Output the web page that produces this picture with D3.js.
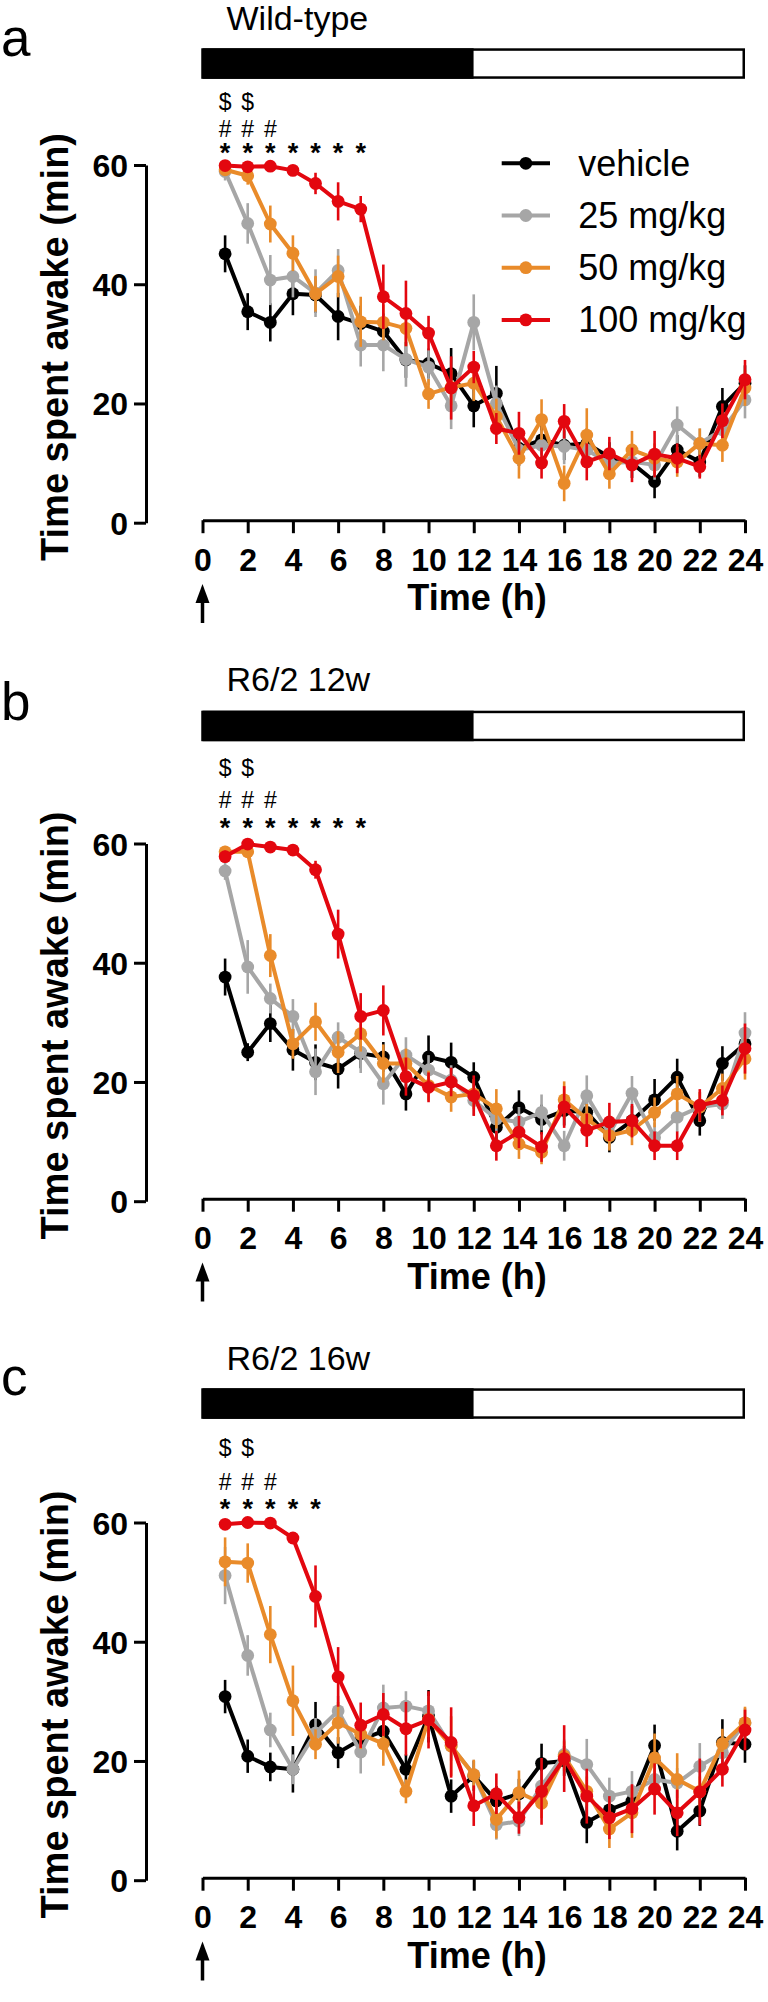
<!DOCTYPE html>
<html><head><meta charset="utf-8">
<script src="https://cdn.jsdelivr.net/npm/d3@7"></script>
<style>
body{margin:0;background:#fff}
svg{display:block}
text{font-family:"Liberation Sans",Arial,Helvetica,sans-serif;fill:#000}
</style>
</head><body>
<svg id="chart" width="768" height="2002"></svg>
<script>
// ---------- DATA ----------
const hours = [1,2,3,4,5,6,7,8,9,10,11,12,13,14,15,16,17,18,19,20,21,22,23,24];
const xTicks = [0,2,4,6,8,10,12,14,16,18,20,22,24];
const yTicks = [0,20,40,60];
const panelLetters = ["a","b","c"];
const panelTitles = ["Wild-type","R6/2 12w","R6/2 16w"];
const seriesNames = ["vehicle","25 mg/kg","50 mg/kg","100 mg/kg"];
const xLabel = "Time (h)";
const yLabel = "Time spent awake (min)";
const lightDark = [{from:0,to:12,phase:"dark"},{from:12,to:24,phase:"light"}];

// significance markers (hours)
const starHours = [[1,2,3,4,5,6,7],[1,2,3,4,5,6,7],[1,2,3,4,5]];
const hashHours = [[1,2,3],[1,2,3],[1,2,3]];
const dollarHours = [[1,2],[1,2],[1,2]];

// Panel a: Wild-type
const wtVehicle = [45.1,35.4,33.6,38.4,38.2,34.6,33.4,32.1,27.3,26.7,25.0,19.6,21.7,12.5,13.9,13.0,13.3,11.0,10.0,6.9,12.2,10.2,19.5,23.4];
const wtVehicleErr = [3.1,3.1,3.2,3.6,3.0,4.0,3.0,3.0,3.0,2.5,4.3,3.6,4.6,3.0,2.5,2.5,2.5,2.5,2.5,2.8,2.5,2.5,3.1,3.0];
const wt25 = [58.9,50.2,40.7,41.3,38.5,42.3,29.8,29.8,27.4,26.1,19.6,33.6,20.0,12.2,13.0,12.8,12.2,10.0,10.2,9.7,16.4,13.3,15.6,20.6];
const wt25Err = [1.5,3.4,4.2,3.5,4.0,3.6,3.6,4.4,4.6,3.0,3.9,4.7,3.0,2.5,2.5,3.0,2.5,2.5,2.5,2.5,3.1,2.5,2.5,3.1];
const wt50 = [59.2,58.2,50.1,45.2,38.4,41.3,33.7,33.6,32.6,21.6,22.7,23.4,17.8,10.8,17.3,6.6,14.7,8.2,12.2,10.8,10.2,13.3,13.0,22.6];
const wt50Err = [1.0,1.5,3.1,3.0,3.0,3.5,4.2,3.0,3.0,2.5,3.0,3.0,3.0,3.4,3.4,3.0,4.5,2.5,3.2,2.5,2.5,2.5,2.8,3.0];
const wt100 = [59.9,59.7,59.8,59.1,56.9,53.9,52.6,37.9,35.1,31.8,22.6,26.1,15.8,15.0,10.0,17.0,10.2,11.6,9.7,11.5,10.8,9.4,17.1,24.0];
const wt100Err = [0.3,0.3,0.3,0.5,1.8,3.2,2.2,5.4,5.5,2.9,5.3,2.7,2.6,3.6,2.6,2.9,3.1,2.8,2.9,3.9,2.5,2.0,2.9,3.3];

// Panel b: R6/2 12w
const r12Vehicle = [37.6,25.0,29.8,25.4,23.3,22.2,24.8,24.2,18.0,24.2,23.3,20.8,12.4,15.7,13.7,15.2,14.9,10.7,13.5,17.0,20.8,13.5,23.1,26.4];
const r12VehicleErr = [3.1,1.5,3.1,3.5,3.0,3.3,2.5,2.5,2.8,3.6,3.3,2.5,2.5,2.9,2.5,2.5,2.5,2.5,2.5,3.5,3.1,2.5,2.9,2.5];
const r12_25 = [55.4,39.3,34.0,31.0,21.7,27.5,25.0,19.7,24.5,22.0,20.3,16.9,13.8,13.3,14.9,9.3,17.7,11.3,18.1,10.7,14.1,15.8,16.3,28.2];
const r12_25Err = [1.5,4.5,2.5,2.9,3.9,2.5,3.5,3.5,3.0,2.5,2.5,2.5,2.5,2.5,3.0,2.5,3.4,2.5,2.9,2.5,2.5,2.5,2.5,3.5];
const r12_50 = [58.6,58.6,41.2,26.4,30.1,25.0,28.1,23.1,23.1,19.4,17.5,18.0,15.5,9.6,8.2,17.0,13.8,11.0,11.9,14.9,18.0,15.8,18.9,23.9];
const r12_50Err = [1.0,1.0,3.6,2.5,3.2,3.5,3.0,3.2,2.5,2.5,2.5,2.5,3.3,2.5,2.0,3.1,2.5,2.5,2.5,2.5,3.0,2.5,2.5,3.5];
const r12_100 = [57.8,59.9,59.4,58.9,55.6,44.8,31.0,32.0,20.9,19.1,20.0,17.7,9.3,11.6,9.1,15.8,11.9,13.3,13.5,9.3,9.3,16.1,16.9,25.6];
const r12_100Err = [1.0,0.5,0.5,0.8,1.5,4.1,3.9,4.2,3.2,2.5,2.4,3.4,2.5,2.7,2.5,3.5,2.8,3.2,2.8,2.4,2.4,2.7,2.5,4.2];

// Panel c: R6/2 16w
const r16Vehicle = [30.8,20.8,19.0,18.6,26.1,21.4,23.6,25.0,18.6,27.5,14.1,17.5,13.3,14.5,19.6,20.0,9.7,11.8,13.3,22.6,8.2,11.6,23.1,22.8];
const r16VehicleErr = [2.8,2.8,2.4,3.9,3.8,2.6,2.5,2.5,2.5,4.4,2.8,2.5,2.5,2.5,3.3,2.5,3.5,2.5,2.5,3.5,3.2,2.5,3.9,3.1];
const r16_25 = [51.1,37.7,25.2,18.6,24.7,28.4,21.5,28.9,29.2,28.4,22.5,17.7,9.3,9.9,15.8,21.1,19.4,14.1,14.9,16.9,16.3,19.1,21.4,26.4];
const r16_25Err = [4.8,3.4,2.9,2.5,2.5,2.5,3.6,3.9,2.5,2.5,2.5,2.5,2.5,2.5,2.5,2.5,4.3,3.1,3.4,2.5,2.5,3.9,2.5,2.5];
const r16_50 = [53.4,53.2,41.2,30.1,22.8,26.4,24.5,22.9,14.9,27.0,22.5,17.7,10.2,14.7,12.9,20.8,14.9,8.6,11.3,20.5,16.9,14.9,22.9,26.4];
const r16_50Err = [4.1,3.3,4.8,5.9,2.5,3.5,2.5,3.7,2.0,3.0,5.0,2.5,3.2,3.7,2.5,2.5,2.5,3.2,4.2,4.1,4.4,2.5,2.5,2.7];
const r16_100 = [59.7,60.0,59.9,57.4,47.6,34.1,26.0,27.8,25.4,26.9,23.1,12.5,14.5,10.5,14.9,20.4,14.1,10.5,12.0,15.3,11.3,14.8,18.6,25.2];
const r16_100Err = [0.3,0.3,0.3,1.0,5.2,5.0,3.8,3.6,4.5,4.8,5.9,3.4,3.4,2.7,5.6,5.6,4.6,3.6,4.1,4.3,3.9,5.6,2.9,3.4];

const panelData = [
  [[wtVehicle,wtVehicleErr],[wt25,wt25Err],[wt50,wt50Err],[wt100,wt100Err]],
  [[r12Vehicle,r12VehicleErr],[r12_25,r12_25Err],[r12_50,r12_50Err],[r12_100,r12_100Err]],
  [[r16Vehicle,r16VehicleErr],[r16_25,r16_25Err],[r16_50,r16_50Err],[r16_100,r16_100Err]]
];

// ---------- STYLE / LAYOUT ----------
const colors = ["#000000","#a6a6a6","#e98b2a","#e3070f"];
const layout = [
  {off:0,     letterY:56,   titleY:29.5,  barY:48.3,  dollarY:110, hashY:137,  starY:162},
  {off:678.5, letterY:720,  titleY:691,   barY:710.7, dollarY:776,   hashY:808,  starY:837},
  {off:1357.5,letterY:1395, titleY:1369.5,barY:1388.3,dollarY:1456,  hashY:1490, starY:1517.5}
];

const svg = d3.select("#chart");
const x = d3.scaleLinear().domain([0,24]).range([202.5,745]);

layout.forEach((L,pi)=>{
  const g = svg.append("g");
  const y = d3.scaleLinear().domain([0,60]).range([522.7+L.off,165+L.off]);

  // panel letter
  g.append("text").attr("x",1).attr("y",L.letterY).attr("font-size",53).text(panelLetters[pi]);
  // title
  g.append("text").attr("x",226.5).attr("y",L.titleY).attr("font-size",34).text(panelTitles[pi]);

  // light/dark bar
  const barH = 30.5;
  g.selectAll("rect.ld").data(lightDark).join("rect")
    .attr("x",d=>x(d.from)).attr("y",L.barY)
    .attr("width",d=>x(d.to)-x(d.from)).attr("height",barH)
    .attr("fill",d=>d.phase==="dark"?"#000":"#fff");
  g.append("rect").attr("x",x(0)).attr("y",L.barY+1.25).attr("width",x(24)-x(0)-1.25).attr("height",barH-2.5)
    .attr("fill","none").attr("stroke","#000").attr("stroke-width",2.5);

  // significance symbols
  const sym = (hrs,ch,yy,fs,fw)=>g.selectAll(null).data(hrs).join("text")
    .attr("x",d=>x(d)).attr("y",yy).attr("text-anchor","middle").attr("font-size",fs)
    .attr("font-weight",fw).text(ch);
  sym(dollarHours[pi],"$",L.dollarY,23,"normal");
  sym(hashHours[pi],"#",L.hashY,23,"normal");
  sym(starHours[pi],"*",L.starY,27,"bold");

  // y axis
  const ya = g.append("g").attr("transform",`translate(146,0)`)
    .call(d3.axisLeft(y).tickValues(yTicks).tickSize(12).tickSizeOuter(0).tickPadding(6));
  ya.select(".domain").attr("stroke-width",3).attr("stroke","#000");
  ya.selectAll(".tick line").attr("stroke-width",3).attr("stroke","#000");
  ya.selectAll(".tick text").attr("font-size",32).attr("font-weight","bold")
    .attr("font-family","Liberation Sans, Arial, sans-serif").attr("fill","#000").attr("dy","0.36em");

  // x axis
  const axisY = y(0)-2.5;
  const xa = g.append("g").attr("transform",`translate(0,${axisY})`)
    .call(d3.axisBottom(x).tickValues(xTicks).tickSize(13).tickSizeOuter(0));
  xa.select(".domain").attr("stroke-width",3).attr("stroke","#000");
  xa.selectAll(".tick line").attr("stroke-width",3).attr("stroke","#000");
  xa.selectAll(".tick text").attr("font-size",32).attr("font-weight","bold")
    .attr("font-family","Liberation Sans, Arial, sans-serif").attr("fill","#000")
    .attr("dy",null).attr("y",571+L.off-axisY);

  // axis titles
  g.append("text").attr("x",477).attr("y",610+L.off).attr("text-anchor","middle")
    .attr("font-size",36).attr("font-weight","bold").text(xLabel);
  g.append("text").attr("transform",`translate(68,${347+L.off}) rotate(-90)`)
    .attr("text-anchor","middle").attr("font-size",38).attr("font-weight","bold").text(yLabel);

  // arrow at time 0
  const ax = x(0);
  g.append("line").attr("x1",ax).attr("x2",ax).attr("y1",623+L.off).attr("y2",598+L.off)
    .attr("stroke","#000").attr("stroke-width",3.5);
  g.append("path").attr("d",`M${ax},${584+L.off} L${ax-7},${603+L.off} L${ax+7},${603+L.off} Z`).attr("fill","#000");

  // series
  const line = d3.line().x((d,i)=>x(hours[i])).y(d=>y(d));
  panelData[pi].forEach(([vals,errs],si)=>{
    const sg = g.append("g");
    const c = colors[si];
    sg.selectAll("line.err").data(vals).join("line")
      .attr("x1",(d,i)=>x(hours[i])).attr("x2",(d,i)=>x(hours[i]))
      .attr("y1",(d,i)=>y(Math.max(0,d-errs[i]))).attr("y2",(d,i)=>y(d+errs[i]))
      .attr("stroke",c).attr("stroke-width",2.6);
    sg.append("path").attr("d",line(vals)).attr("fill","none").attr("stroke",c)
      .attr("stroke-width",4).attr("stroke-linejoin","round");
    sg.selectAll("circle").data(vals).join("circle")
      .attr("cx",(d,i)=>x(hours[i])).attr("cy",d=>y(d)).attr("r",6.4).attr("fill",c);
  });

  // legend (panel a only)
  if(pi===0){
    const lg = g.append("g");
    seriesNames.forEach((n,si)=>{
      const ly = 163.3 + si*52.2;
      lg.append("line").attr("x1",501.7).attr("x2",550).attr("y1",ly).attr("y2",ly)
        .attr("stroke",colors[si]).attr("stroke-width",4);
      lg.append("circle").attr("cx",525.8).attr("cy",ly).attr("r",6.4).attr("fill",colors[si]);
      lg.append("text").attr("x",578.3).attr("y",ly+12.5).attr("font-size",36).text(n);
    });
  }
});
</script>
</body></html>
